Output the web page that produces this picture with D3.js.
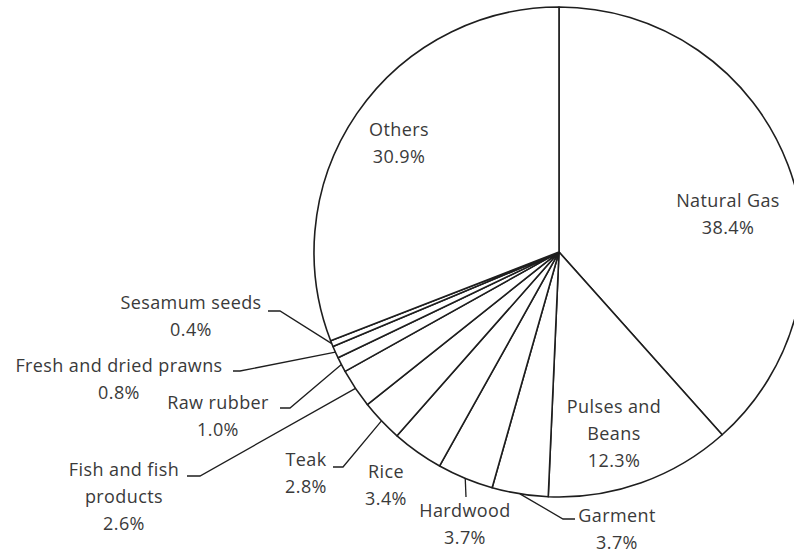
<!DOCTYPE html>
<html>
  <head>
    <meta charset="utf-8">
    <title>Export shares</title>
    <script src="https://d3js.org/d3.v7.min.js"></script>
    <style>
      body { margin: 0; background: #fff; }
      text { font-family: "Open Sans", sans-serif; font-size: 18px; letter-spacing: 0.4px; fill: #3a3a3a; }
    </style>
  </head>
  <body>
    <div id="pie"></div>
    <script>
      // slices, clockwise from 12 o'clock
      var categories = ["Natural Gas", "Pulses and Beans", "Garment", "Hardwood", "Rice", "Teak",
                        "Fish and fish products", "Raw rubber", "Fresh and dried prawns", "Sesamum seeds", "Others"];
      var shares = [38.4, 12.3, 3.7, 3.7, 3.4, 2.8, 2.6, 1.0, 0.8, 0.4, 30.9];

      // how each label is broken into lines
      var labelLines = [["Natural Gas"], ["Pulses and", "Beans"], ["Garment"], ["Hardwood"], ["Rice"], ["Teak"],
                        ["Fish and fish", "products"], ["Raw rubber"], ["Fresh and dried prawns"], ["Sesamum seeds"], ["Others"]];

      // label placement: x = centre of text, y = first baseline, elbow = leader bend (null = no leader)
      var labelPos = [
        {x: 728, y: 207, elbow: null},
        {x: 614, y: 413, elbow: null},
        {x: 617, y: 522, elbow: [563, 519, 575]},
        {x: 465, y: 517, elbow: [466, 497, 466]},
        {x: 386, y: 478, elbow: null},
        {x: 306, y: 466, elbow: [343, 467, 333]},
        {x: 124, y: 476, elbow: [200, 476, 187]},
        {x: 218, y: 409, elbow: [290, 408, 280]},
        {x: 119, y: 372, elbow: [240, 371, 233]},
        {x: 191, y: 309, elbow: [280, 311, 268]},
        {x: 399, y: 136, elbow: null}
      ];

      var width = 794, height = 553;
      var cx = 559, cy = 252, radius = 245;
      var lineH = 27;

      var svg = d3.select("#pie")
        .append("svg")
        .attr("width", width)
        .attr("height", height);

      var pie = d3.pie().sort(null).value(function(d) { return d; });
      var arcs = pie(shares);
      var arc = d3.arc().innerRadius(0).outerRadius(radius);

      var g = svg.append("g")
        .attr("transform", "translate(" + cx + "," + cy + ")");

      g.selectAll("path")
        .data(arcs)
        .enter()
        .append("path")
        .attr("d", arc)
        .attr("fill", "#fff")
        .attr("stroke", "#1e1e1e")
        .attr("stroke-width", 1.6)
        .attr("stroke-linejoin", "round");

      // leader lines from the middle of the slice's rim
      arcs.forEach(function(a, i) {
        var p = labelPos[i];
        if (!p.elbow) return;
        var mid = (a.startAngle + a.endAngle) / 2;
        var sx = cx + radius * Math.sin(mid);
        var sy = cy - radius * Math.cos(mid);
        svg.append("polyline")
          .attr("points", [[sx, sy], [p.elbow[0], p.elbow[1]], [p.elbow[2], p.elbow[1]]].join(" "))
          .attr("fill", "none")
          .attr("stroke", "#1e1e1e")
          .attr("stroke-width", 1.3);
      });

      // labels
      categories.forEach(function(c, i) {
        var p = labelPos[i];
        var lines = labelLines[i].concat([shares[i].toFixed(1) + "%"]);
        var t = svg.append("text")
          .attr("text-anchor", "middle")
          .attr("x", p.x)
          .attr("y", p.y);
        lines.forEach(function(l, k) {
          t.append("tspan")
            .attr("x", p.x)
            .attr("y", p.y + k * lineH)
            .text(l);
        });
      });
    </script>
  </body>
</html>
